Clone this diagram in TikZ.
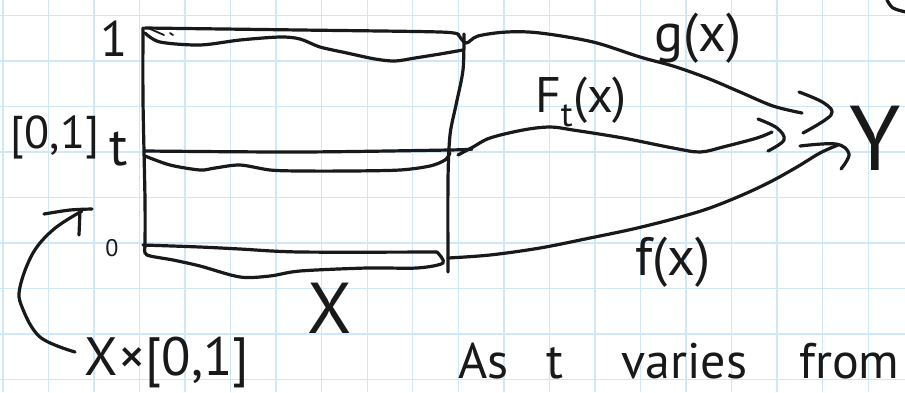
\documentclass[tikz,border=0pt]{standalone}
\usepackage{fontspec}
\setmainfont{PT Sans}
\definecolor{gridblue}{RGB}{206,232,250}
\definecolor{inkc}{RGB}{25,25,25}
\begin{document}
\begin{tikzpicture}[x=1pt,y=-1pt,
  ink/.style={line width=3.2pt, draw=inkc, line cap=round, line join=round},
  fineink/.style={line width=1.8pt, draw=inkc, line cap=round, line join=round},
  gridline/.style={line width=1.4pt, draw=gridblue},
  lbl/.style={inner sep=0pt, text=inkc}]
\useasboundingbox (0,0) rectangle (905,392);
\fill[white] (0,0) rectangle (905,392);
\clip (0,0) rectangle (905,392);
% grid paper
\foreach \i in {0,...,19} \draw[gridline] ({2.8+45.55*\i},0) -- ({2.8+45.55*\i},392);
\foreach \j in {0,...,8} \draw[gridline] (0,{15.3+45.55*\j}) -- (905,{15.3+45.55*\j});

% ---- rectangle X x [0,1]
\draw[ink] plot[smooth, tension=0.5] coordinates {(143,28) (143,100) (145,200) (145,247)};
\draw[ink] plot[smooth, tension=0.5] coordinates {(464,34) (463,70) (456,105) (450,135) (448,180) (448,272)};
% top band (level 1)
\draw[ink] plot[smooth, tension=0.5] coordinates {(145,28) (300,30) (440,32) (458,35)};
\draw[ink] plot[smooth, tension=0.5] coordinates {(145,33) (160,42) (200,45) (240,40) (280,37) (300,39) (320,47) (347,53) (375,59) (395,61) (415,58) (440,54) (463,50)};
\draw[fineink] (148,28) -- (164,35);
\draw[fineink] (170,33) -- (173,35);
% middle band (level t)
\draw[ink] plot[smooth, tension=0.5] coordinates {(145,151) (300,152) (449,150) (472,149)};
\draw[ink] plot[smooth, tension=0.5] coordinates {(145,156) (170,165) (200,170) (215,168) (240,165) (270,170) (300,171) (350,171) (400,170) (430,166) (445,160) (450,153)};
% bottom band (level 0)
\draw[ink] plot[smooth, tension=0.5] coordinates {(143,245) (200,247) (240,249) (300,252) (437,252)};
\draw[ink] plot[smooth, tension=0.5] coordinates {(145,247) (147,255) (173,260) (200,266) (240,277) (270,276) (300,271) (367,268) (417,268) (443,263) (437,252)};

% ---- connectors to Y
\coordinate (gS) at (458,34);
\coordinate (gE) at (802,113);
\coordinate (ftS) at (458,155);
\coordinate (ftE) at (772,132);
\coordinate (fS) at (448,258);
\coordinate (fE) at (838,145);
\draw[ink] plot[smooth, tension=0.55] coordinates {(gS) (466,43) (478,36) (507,32) (540,33) (593,42) (640,57) (673,66) (707,78) (740,92) (773,106) (gE)};
\draw[ink] plot[smooth, tension=0.55] coordinates {(ftS) (473,147) (490,138) (523,130) (550,127) (573,130) (623,138) (673,148) (700,152) (723,147) (757,138) (ftE)};
\draw[ink] plot[smooth, tension=0.55] coordinates {(fS) (490,255) (540,248) (590,238) (633,229) (673,219) (707,209) (740,196) (770,182) (797,167) (820,153) (fE)};
% hand-drawn arrowheads
\draw[ink] plot[smooth, tension=0.6] coordinates {(799,92) (824,103) (831,115) (803,133)};
\draw[ink] plot[smooth, tension=0.6] coordinates {(758,119) (777,128) (784,140) (768,151)};
\draw[ink] plot[smooth, tension=0.6] coordinates {(800,146) (836,144) (849,154) (841,169)};

% ---- curved arrow from X x [0,1]
\coordinate (cS) at (75,352);
\coordinate (cE) at (82,211);
\draw[ink] plot[smooth, tension=0.6] coordinates {(cS) (40,337) (22,307) (20,287) (33,253) (54,229) (cE)};
\draw[ink] plot[smooth, tension=0.5] coordinates {(44,214) (70,210) (92,209)};
\draw[ink] (80,211) -- (79,235);

% top-right partial stroke
\draw[ink] plot[smooth, tension=0.6] coordinates {(887,0) (893,8) (906,12)};

% ---- labels
\node[lbl, font=\fontsize{50}{50}\selectfont] (one) at (114,39) {1};
\node[lbl, font=\fontsize{46}{46}\selectfont] (unit) at (55,137) {[0,1]};
\node[lbl, font=\fontsize{54}{54}\selectfont] (tlab) at (119,149) {t};
\node[lbl, font=\fontsize{24}{24}\selectfont] (zero) at (112,248) {0};
\node[lbl, font=\fontsize{72}{72}\selectfont] (Xlab) at (330,308) {X};
\node[lbl, font=\fontsize{54}{54}\selectfont] (prod) at (167,362) {X×[0,1]};
\node[lbl, font=\fontsize{54}{54}\selectfont] (glab) at (698,38) {g(x)};
\node[lbl, font=\fontsize{50}{50}\selectfont] (Ftlab) at (581,102) {F\textsubscript{t}(x)};
\node[lbl, font=\fontsize{54}{54}\selectfont] (flab) at (673,262) {f(x)};
\node[lbl, font=\fontsize{92}{92}\selectfont] (Ylab) at (875,138) {Y};
\node[lbl, anchor=base west, font=\fontsize{50}{50}\selectfont] (note) at (458,378) {As\hspace{38pt}t\hspace{58pt}varies\hspace{52pt}from};
\end{tikzpicture}
\end{document}
